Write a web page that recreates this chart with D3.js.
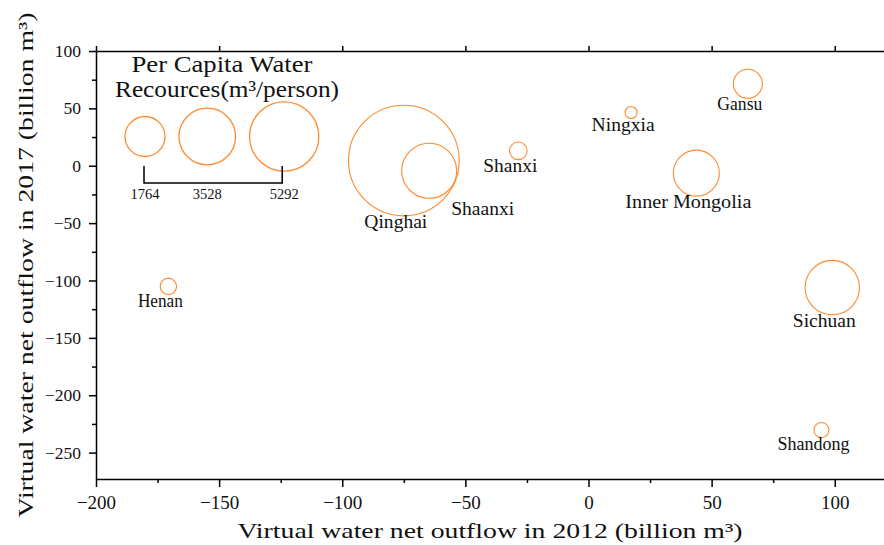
<!DOCTYPE html>
<html>
<head>
<meta charset="utf-8">
<script src="https://cdn.jsdelivr.net/npm/d3@7"></script>
<style>
  body { margin: 0; background: #fff; }
  text { font-family: "Liberation Serif", serif; fill: #111; }
</style>
</head>
<body>
<div id="bubble-chart"></div>
<script>

// data
const provinces = ["Qinghai", "Shaanxi", "Shanxi", "Gansu", "Ningxia", "Inner Mongolia", "Sichuan", "Shandong", "Henan"];
const outflow2012 = [-75.0, -64.7, -28.5, 64.7, 17.3, 43.8, 99.0, 94.6, -170.6];
const outflow2017 = [4.5, -4.4, 13.0, 71.4, 46.4, -6.4, -106.2, -230.3, -105.1];
const waterPerCapita = [13500, 3340, 342, 927, 159, 2333, 3263, 248, 296];
const legendValues = [1764, 3528, 5292];
const xTicks = [-200, -150, -100, -50, 0, 50, 100];
const yTicks = [100, 50, 0, -50, -100, -150, -200, -250];

const width = 884, height = 545;
const margin = {top: 51, right: 0, bottom: 66, left: 96};

const svg = d3.select("#bubble-chart")
    .append("svg")
    .attr("width", width)
    .attr("height", height);

// scales
const x = d3.scaleLinear()
    .domain([-200, 120])
    .range([margin.left, width]);

const y = d3.scaleLinear()
    .domain([-273, 100])
    .range([height - margin.bottom, margin.top]);

const r = d3.scaleSqrt()
    .domain([0, 1764])
    .range([0, 20]);

// SimSun-like fixed advance: stretch each string to half an em per char
const mono = (sel, fs) => sel
    .attr("font-size", fs)
    .attr("textLength", d => (typeof d === "string" ? d : d.name).length * fs * 0.5)
    .attr("lengthAdjust", "spacingAndGlyphs");

const axisStyle = g => {
    g.selectAll("path, line").attr("stroke", "#000").attr("stroke-width", 1.5);
};

// bottom axis + minor ticks
svg.append("g")
    .attr("transform", `translate(0,${y(-273)})`)
    .call(d3.axisBottom(x).tickValues(xTicks).tickSize(8).tickSizeOuter(0).tickPadding(9))
    .call(axisStyle)
    .call(g => g.selectAll("text").attr("font-size", 19).attr("font-family", "Liberation Serif").attr("fill", "#111"));

svg.append("g")
    .attr("transform", `translate(0,${y(-273)})`)
    .call(d3.axisBottom(x).tickValues(d3.range(-175, 120, 50)).tickSize(4).tickFormat(""))
    .call(g => g.select(".domain").remove())
    .call(axisStyle);

// top border with ticks
svg.append("g")
    .attr("transform", `translate(0,${y(100)})`)
    .call(d3.axisTop(x).tickValues(xTicks).tickSize(5).tickSizeOuter(0).tickFormat(""))
    .call(axisStyle);

// left axis + minor ticks
svg.append("g")
    .attr("transform", `translate(${x(-200)},0)`)
    .call(d3.axisLeft(y).tickValues(yTicks).tickSize(7).tickSizeOuter(0).tickPadding(8))
    .call(axisStyle)
    .call(g => g.selectAll("text").attr("font-size", 17.5).attr("font-family", "Liberation Serif").attr("fill", "#111"));

svg.append("g")
    .attr("transform", `translate(${x(-200)},0)`)
    .call(d3.axisLeft(y).tickValues(d3.range(75, -260, -50)).tickSize(4).tickFormat(""))
    .call(g => g.select(".domain").remove())
    .call(axisStyle);

// axis titles
svg.append("text")
    .attr("x", (x(-200) + width) / 2)
    .attr("y", 538)
    .attr("text-anchor", "middle")
    .attr("font-size", 22)
    .attr("textLength", 505)
    .attr("lengthAdjust", "spacingAndGlyphs")
    .text("Virtual water net outflow in 2012 (billion m³)");

svg.append("text")
    .attr("transform", `translate(33,${(y(100) + y(-273)) / 2}) rotate(-90)`)
    .attr("text-anchor", "middle")
    .attr("font-size", 22)
    .attr("textLength", 505)
    .attr("lengthAdjust", "spacingAndGlyphs")
    .text("Virtual water net outflow in 2017 (billion m³)");

// bubbles
const data = provinces.map((name, i) => ({
    name: name,
    x: outflow2012[i],
    y: outflow2017[i],
    w: waterPerCapita[i]
}));

svg.selectAll(".bubble")
    .data(data)
    .enter()
    .append("circle")
        .attr("class", "bubble")
        .attr("cx", d => x(d.x))
        .attr("cy", d => y(d.y))
        .attr("r", d => r(d.w))
        .attr("fill", "none")
        .attr("stroke", "#ff8a2e")
        .attr("stroke-width", 1.1);

// labels sit under the bubble, Shaanxi goes to the lower right of Qinghai
svg.selectAll(".label")
    .data(data)
    .enter()
    .append("text")
        .attr("class", "label")
        .attr("x", d => d.name === "Shaanxi" ? x(d.x) + 22 : x(d.x) - 8)
        .attr("y", d => d.name === "Shaanxi" ? y(d.y) + 44 : y(d.y) + r(d.w) + 12)
        .attr("text-anchor", d => d.name === "Shaanxi" ? "start" : "middle")
        .call(mono, 18)
        .text(d => d.name);

// size legend
const legend = svg.append("g").attr("transform", "translate(145,136.5)");

legend.selectAll(".title")
    .data(["Per Capita Water", "Recources(m³/person)"])
    .enter()
    .append("text")
        .attr("x", (d, i) => i === 0 ? 77 : 82)
        .attr("y", (d, i) => i === 0 ? -64.5 : -39.5)
        .attr("text-anchor", "middle")
        .attr("font-size", 22.5)
        .attr("textLength", (d, i) => i === 0 ? 181 : 224)
        .attr("lengthAdjust", "spacingAndGlyphs")
        .text(d => d);

// circle centres packed side by side with a fixed gap
const gap = 14;
const legendX = [];
legendValues.forEach((v, i) => {
    legendX.push(i === 0 ? 0 : legendX[i - 1] + r(legendValues[i - 1]) + gap + r(v));
});

legend.selectAll("circle")
    .data(legendValues)
    .enter()
    .append("circle")
        .attr("cx", (d, i) => legendX[i])
        .attr("cy", 0)
        .attr("r", d => r(d))
        .attr("fill", "none")
        .attr("stroke", "#ff8a2e")
        .attr("stroke-width", 1.3);

const x0 = legendX[0] - 1, x1 = legendX[legendX.length - 1] - 2;
legend.append("path")
    .attr("d", `M${x0},29.5V46.5H${x1}V29.5`)
    .attr("fill", "none")
    .attr("stroke", "#000")
    .attr("stroke-width", 1.5);

legend.selectAll(".val")
    .data(legendValues)
    .enter()
    .append("text")
        .attr("x", (d, i) => legendX[i])
        .attr("y", 62.5)
        .attr("text-anchor", "middle")
        .attr("font-size", 14.5)
        .text(d => d);

</script>
</body>
</html>
